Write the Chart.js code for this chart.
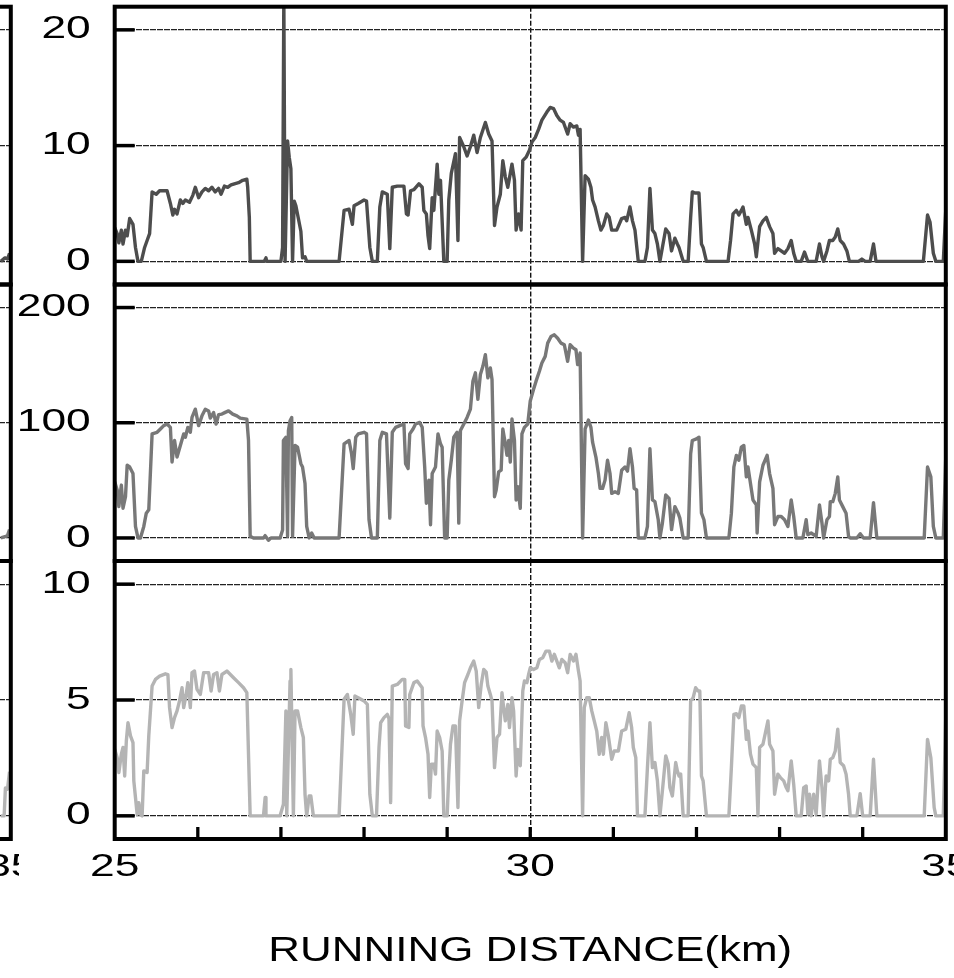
<!DOCTYPE html>
<html>
<head>
<meta charset="utf-8">
<script src="https://cdn.jsdelivr.net/npm/chart.js@4.4.1/dist/chart.umd.min.js"></script>
<style>
html,body{margin:0;padding:0;background:#fff;width:954px;height:978px;overflow:hidden;position:relative}
</style>
</head>
<body>
<script>
// ---------------- DATA ----------------
const xTitle = 'RUNNING DISTANCE(km)';
const xLabelTicks = [25, 30, 35];
const xMinorTicks = [26, 27, 28, 29, 30, 31, 32, 33, 34];
const topTicks = [0, 10, 20];
const midTicks = [0, 100, 200];
const botTicks = [0, 5, 10];

// top series (dark grey)
const topDist = [25.00,25.03,25.05,25.08,25.10,25.13,25.15,25.18,25.22,25.25,25.28,25.32,25.36,25.39,25.42,25.45,25.50,25.54,25.63,25.67,25.70,25.72,25.75,25.79,25.82,25.85,25.90,25.94,25.97,26.01,26.05,26.09,26.13,26.17,26.21,26.25,26.28,26.32,26.36,26.40,26.44,26.49,26.54,26.59,26.60,26.62,26.63,26.80,26.82,26.83,27.00,27.02,27.035,27.05,27.08,27.10,27.12,27.14,27.16,27.18,27.21,27.24,27.26,27.29,27.31,27.70,27.76,27.82,27.86,27.88,27.93,28.00,28.03,28.07,28.10,28.16,28.19,28.22,28.28,28.31,28.34,28.40,28.48,28.51,28.53,28.56,28.60,28.66,28.70,28.72,28.75,28.77,28.79,28.82,28.84,28.88,28.90,28.92,28.96,29.00,29.02,29.05,29.10,29.13,29.15,29.20,29.24,29.28,29.32,29.36,29.40,29.46,29.50,29.54,29.57,29.60,29.64,29.67,29.70,29.73,29.76,29.78,29.81,29.83,29.86,29.89,29.91,29.95,29.99,30.02,30.06,30.10,30.14,30.20,30.24,30.28,30.32,30.36,30.40,30.45,30.48,30.52,30.56,30.58,30.60,30.63,30.66,30.70,30.73,30.75,30.78,30.82,30.85,30.88,30.92,30.95,30.98,31.04,31.10,31.14,31.16,31.20,31.23,31.26,31.30,31.38,31.41,31.44,31.47,31.50,31.53,31.56,31.59,31.63,31.67,31.70,31.74,31.77,31.79,31.84,31.90,31.93,31.95,31.98,32.03,32.06,32.08,32.12,32.38,32.41,32.44,32.48,32.51,32.54,32.56,32.60,32.62,32.66,32.70,32.72,32.76,32.80,32.84,32.88,32.92,32.94,32.98,33.06,33.10,33.14,33.17,33.20,33.26,33.30,33.34,33.44,33.48,33.51,33.53,33.57,33.60,33.64,33.67,33.70,33.73,33.77,33.81,33.84,33.95,33.99,34.03,34.09,34.13,34.16,34.73,34.78,34.81,34.85,34.88,34.97,35.00];
const topVals = [2.9,2.4,1.6,2.7,1.5,2.7,2.2,3.7,3.2,1.2,0,0,1.2,1.8,2.4,6.0,5.8,6.1,6.1,5.0,4.0,4.5,4.1,5.3,5.0,5.3,5.1,5.7,6.4,5.5,6.0,6.3,6.1,6.4,6.0,6.3,5.8,6.5,6.4,6.6,6.7,6.8,7.0,7.1,6.4,3.8,0,0,0.3,0,0,1.2,23,0,10.4,9.0,8.0,0,5.2,4.8,3.7,2.6,0.3,0.4,0,0,4.4,4.5,3.2,4.8,5.0,5.3,5.2,1.2,0,0,4.7,6.0,5.8,1.1,6.4,6.5,6.5,4.1,4.0,6.1,6.2,6.7,6.4,4.4,4.1,2.2,1.1,5.5,4.4,8.4,5.8,7.0,0,0,5.3,7.6,9.3,1.8,10.7,9.9,9.1,9.9,10.9,9.4,10.7,12.0,11.0,10.4,3.1,4.7,5.8,8.7,7.3,6.4,7.6,8.4,7.0,2.7,4.1,2.7,8.7,9.0,9.6,10.3,10.7,11.4,12.2,12.9,13.3,13.2,12.6,12.2,12.0,11.0,11.9,11.6,11.7,10.9,11.4,0,7.4,7.1,6.4,5.3,4.7,3.5,2.7,3.1,4.1,3.8,2.7,2.7,3.7,3.8,3.5,4.7,3.5,2.7,0,0,1.2,6.3,2.7,2.4,1.5,0,1.2,2.8,2.4,0.9,2.0,1.5,1.2,0,0,3.8,6.0,5.9,5.9,1.5,1.2,0,0,1.8,4.1,4.4,4.0,4.4,4.7,3.2,3.8,2.7,1.5,0.4,3.0,3.5,3.8,3.0,2.4,0.7,1.1,0.7,1.1,1.8,0.7,0,0,0.8,0,0,1.5,0.4,0,0.9,1.8,1.8,2.1,2.8,1.8,1.5,0.9,0,0,0.2,0,0,1.5,0,0,4.0,3.4,0.7,0,0,4.5];

// middle series (mid grey)
const midDist = [25.00,25.03,25.05,25.08,25.10,25.13,25.15,25.18,25.22,25.25,25.28,25.31,25.35,25.38,25.41,25.45,25.51,25.55,25.59,25.63,25.67,25.69,25.72,25.75,25.79,25.83,25.85,25.88,25.91,25.93,25.97,26.01,26.05,26.09,26.13,26.15,26.19,26.22,26.25,26.29,26.33,26.37,26.42,26.47,26.51,26.59,26.61,26.63,26.67,26.79,26.81,26.85,26.88,26.99,27.02,27.03,27.06,27.08,27.09,27.11,27.13,27.14,27.17,27.20,27.24,27.26,27.29,27.31,27.34,27.37,27.40,27.70,27.76,27.82,27.85,27.87,27.90,27.93,28.00,28.03,28.06,28.09,28.16,28.19,28.22,28.27,28.31,28.34,28.38,28.43,28.48,28.50,28.53,28.55,28.59,28.62,28.67,28.70,28.73,28.75,28.78,28.80,28.82,28.86,28.89,28.92,28.94,28.97,29.00,29.02,29.05,29.08,29.12,29.14,29.16,29.21,29.24,29.28,29.31,29.34,29.37,29.40,29.43,29.46,29.49,29.52,29.54,29.57,29.59,29.62,29.65,29.67,29.70,29.72,29.74,29.76,29.78,29.81,29.83,29.85,29.88,29.90,29.93,29.97,30.00,30.04,30.07,30.11,30.14,30.18,30.21,30.25,30.29,30.33,30.37,30.41,30.45,30.48,30.52,30.55,30.57,30.60,30.63,30.66,30.70,30.73,30.75,30.79,30.82,30.84,30.87,30.90,30.93,30.96,30.98,31.02,31.06,31.10,31.14,31.17,31.20,31.23,31.25,31.28,31.30,31.38,31.41,31.44,31.47,31.50,31.54,31.56,31.59,31.63,31.67,31.70,31.74,31.78,31.80,31.84,31.90,31.93,31.95,32.00,32.03,32.06,32.09,32.12,32.39,32.42,32.45,32.48,32.51,32.54,32.57,32.60,32.62,32.65,32.68,32.72,32.73,32.76,32.80,32.85,32.88,32.92,32.94,32.98,33.02,33.06,33.10,33.14,33.17,33.20,33.28,33.32,33.34,33.38,33.44,33.48,33.51,33.53,33.57,33.60,33.61,33.64,33.67,33.70,33.72,33.76,33.80,33.83,33.85,33.93,33.97,34.01,34.09,34.13,34.17,34.74,34.78,34.82,34.85,34.88,34.97,35.00];
const midVals = [48.7,41.6,27.2,45.9,25.8,35.8,63.1,61.6,55.9,10.0,0,0,10.0,21.5,24.4,90.3,91.7,94.6,97.5,98.9,96.0,65.9,84.6,70.2,80.3,90.3,87.4,96.0,91.7,104.6,111.8,97.5,106.0,111.8,110.3,104,108.9,98.9,107,107.5,109,110.3,107.5,106.0,104.0,103.2,84.6,1.4,0,0,2,-2,0,0,7,84.6,87.4,1.4,93,101.7,104.6,1.4,80.3,78.8,64.5,61.6,47.3,10.0,0,4.3,0,0,81.7,84.6,73.1,60.2,87.4,90.3,91.7,90.5,15.8,0,0,84.6,91.7,90.3,17.2,91.7,96.0,97.5,98.9,64.5,60.2,90.3,94.6,98.9,100.3,96,61.6,30.1,50.2,11.5,55.9,61.6,90.3,81.7,78.8,0,0,50.2,67.4,87.4,91.7,12.9,93.2,100.3,104.6,111.8,136.1,143.3,120.4,141.9,149,159.1,139,147.6,137.6,35.8,41.6,57.3,58.8,94.6,81.7,71.7,84.6,65.9,103.2,84.6,33.0,44.4,25.8,90.3,96.0,98.9,118.9,129,136.1,144.7,151.9,157.6,169.1,174.8,176.3,173.4,169.1,167.7,153.3,167.7,164.8,163.4,150.5,160.5,0,94.6,102.3,96,83.1,70.2,55.9,43,43,50.2,67.4,55.9,38.7,40.1,38.7,58.8,61.6,58,77.4,61.6,43,41.6,0,0,10,77.4,33,31.5,15.8,0,12.9,37.3,34.4,7.2,27.2,21.5,17.2,0,0,73.1,84.6,86,87.4,21.5,15.8,0,0,21.5,61.6,71.7,67.4,78.8,80.3,53,61.6,47.3,33,28.7,4.3,48.7,63.1,71.7,55.9,43,11.5,18.6,18.6,15.8,10,33,18.6,0,0,15.8,2.9,4.3,1.4,28.7,12.9,0,15.8,18.6,31.5,31.5,38.7,53,33,27.2,21.5,1.4,0,0,3.7,0,0,30.7,0,0,61.6,53,10,0,0,71.7];

// bottom series (light grey)
const botDist = [25.00,25.03,25.05,25.08,25.10,25.12,25.14,25.16,25.19,25.22,25.23,25.25,25.27,25.29,25.31,25.33,25.35,25.39,25.41,25.45,25.49,25.54,25.61,25.64,25.66,25.69,25.72,25.75,25.78,25.81,25.83,25.86,25.88,25.91,25.93,25.96,25.99,26.03,26.07,26.13,26.16,26.19,26.23,26.26,26.29,26.35,26.43,26.49,26.55,26.59,26.61,26.63,26.79,26.81,26.82,26.99,27.03,27.06,27.07,27.11,27.12,27.15,27.17,27.20,27.24,27.27,27.29,27.31,27.34,27.36,27.39,27.70,27.76,27.80,27.84,27.87,27.89,27.93,28.00,28.04,28.07,28.10,28.15,28.18,28.20,28.24,28.28,28.30,28.32,28.34,28.40,28.46,28.49,28.50,28.54,28.55,28.60,28.64,28.70,28.71,28.74,28.77,28.79,28.81,28.84,28.86,28.88,28.91,28.94,28.96,29.00,29.02,29.04,29.07,29.10,29.13,29.15,29.18,29.21,29.25,29.28,29.32,29.35,29.38,29.41,29.44,29.47,29.49,29.52,29.54,29.57,29.60,29.63,29.66,29.68,29.70,29.73,29.75,29.78,29.80,29.83,29.85,29.88,29.91,29.93,29.96,29.98,30.00,30.04,30.08,30.11,30.15,30.19,30.23,30.26,30.29,30.32,30.35,30.38,30.42,30.45,30.48,30.52,30.55,30.58,30.60,30.63,30.65,30.68,30.71,30.74,30.77,30.80,30.83,30.86,30.88,30.91,30.94,30.98,31.01,31.06,31.10,31.15,31.19,31.22,31.24,31.27,31.29,31.38,31.41,31.44,31.47,31.50,31.53,31.56,31.59,31.63,31.66,31.68,31.71,31.75,31.77,31.79,31.81,31.84,31.90,31.93,31.96,31.99,32.02,32.04,32.06,32.08,32.12,32.39,32.42,32.45,32.48,32.51,32.54,32.57,32.60,32.62,32.65,32.68,32.72,32.74,32.76,32.80,32.83,32.86,32.88,32.92,32.94,32.98,33.01,33.05,33.08,33.10,33.14,33.17,33.20,33.26,33.29,33.32,33.34,33.36,33.38,33.41,33.44,33.48,33.51,33.53,33.56,33.59,33.61,33.64,33.67,33.70,33.73,33.77,33.80,33.83,33.85,33.93,33.97,34.00,34.09,34.13,34.17,34.74,34.78,34.82,34.86,34.88,34.97,35.00];
const botVals = [2.87,2.51,1.87,2.66,2.95,1.72,3.23,4.02,3.45,3.16,1.51,0.79,0.07,0.57,0.07,0,1.94,1.87,3.45,5.6,5.89,6.03,6.13,6.1,4.67,3.81,4.24,4.53,4.96,5.53,4.67,5.24,5.75,4.67,6.18,6.25,5.46,5.24,6.18,6.18,5.39,6.1,6.18,5.39,6.1,6.25,5.96,5.75,5.53,5.32,2.66,0,0,0.79,0,0,0.5,4.53,0,5.82,6.32,0,4.53,4.53,3.81,3.38,0.93,0,0.86,0.86,0,0,5.03,5.24,4.38,3.52,5.17,5.1,4.96,4.81,0.93,0,0,2.95,4.02,4.24,4.38,4.2,0.57,5.6,5.67,5.89,5.89,3.88,3.81,5.24,5.75,5.82,5.53,3.88,3.38,2.66,0.79,2.23,2.23,1.8,3.66,3.38,2.8,0,0,1.8,3.09,3.88,3.88,0.36,4.1,4.96,5.75,6.1,6.39,6.68,6.25,4.67,5.67,6.32,6.2,5.6,5.24,4.96,2.08,3.38,3.52,5.32,4.67,4.1,4.81,3.81,5.1,4.53,1.72,2.87,2.16,5.39,5.82,5.75,6.1,6.39,6.32,6.39,6.75,6.82,7.11,7.11,6.68,6.97,6.68,6.39,6.75,6.61,6.18,6.97,6.68,6.97,6.25,5.82,0,4.67,5.1,5.1,4.53,4.1,3.66,2.66,3.38,2.66,4.02,3.45,2.44,2.8,2.8,3.66,3.74,4.45,3.81,2.95,2.51,0,0,2.08,4.02,2.08,2.3,1.51,0,1.08,2.59,2.23,1.22,0.86,2.3,1.94,1.72,1.8,0,0,4.96,5.1,5.53,5.39,5.39,1.72,1.51,0,0,2.08,4.38,4.41,4.24,4.74,4.74,3.3,3.66,2.66,2.23,2.08,0,2.95,3.09,3.59,4.1,3.09,2.8,0.93,1.8,1.65,1.51,1.22,1.08,2.37,1.36,0,0,1.22,1.29,0.07,0.93,0,0.93,0.07,2.37,1.22,0,1.72,1.51,2.44,2.51,2.8,3.74,2.3,2.16,1.8,0.93,0,0,0.96,0,0,2.44,0,0,3.3,2.51,0.36,0,0,4.38];

// neighbouring (cropped) figure on the left: only its last stretch is visible
const leftTopDist = [34.88, 34.93, 34.96, 34.985];
const leftTopVals = [0, 0.3, 0.2, 0.7];
const leftMidDist = [34.88, 34.94, 34.96, 34.985];
const leftMidVals = [0, 1.4, 2, 7.2];
const leftBotDist = [34.88, 34.92, 34.935, 34.96, 34.985];
const leftBotVals = [0, 0, 1.2, 1.15, 1.9];

// ---------------- STYLE / LAYOUT ----------------
Chart.defaults.font.family = "'Liberation Sans', Arial, sans-serif";
Chart.defaults.color = '#000';
Chart.defaults.animation = false;

const W = 954;
const PLOT_LEFT = 114.7;
const PLOT_RIGHT = 945.8;
const LEFT_FIG_SHIFT = 10.5 - PLOT_RIGHT;
const TICK_FONT = 31, TITLE_FONT = 35;
const TICK_STRETCH = 1.43, TITLE_STRETCH = 1.255;

// the original figure uses horizontally widened lettering: stretch Chart.js text in x
const wideTextPlugin = {
  id: 'wideText',
  beforeDraw(chart) {
    const ctx = chart.ctx;
    ctx.fillText = function (text, x, y) {
      const sx = this.font.indexOf(TITLE_FONT + 'px') >= 0 ? TITLE_STRETCH : TICK_STRETCH;
      this.save();
      this.translate(x, y);
      this.scale(sx, 1);
      CanvasRenderingContext2D.prototype.fillText.call(this, text, 0, 0);
      this.restore();
    };
  },
  afterDraw(chart) { delete chart.ctx.fillText; }
};

function framePlugin(minor) {
  return {
    id: 'frame',
    afterDraw(chart) {
      const {ctx, chartArea: a} = chart;
      const ys = chart.scales.y, xs = chart.scales.x;
      ctx.save();
      ctx.strokeStyle = '#000';
      ctx.lineCap = 'butt';
      ctx.lineWidth = 3.5;
      ys.ticks.forEach(t => {
        const p = ys.getPixelForValue(t.value);
        ctx.beginPath(); ctx.moveTo(a.left, p); ctx.lineTo(a.left + 20, p); ctx.stroke();
      });
      ctx.lineWidth = 3.3;
      minor.forEach(v => {
        const p = xs.getPixelForValue(v);
        ctx.beginPath(); ctx.moveTo(p, a.bottom); ctx.lineTo(p, a.bottom - 12); ctx.stroke();
      });
      ctx.lineWidth = 4;
      ctx.strokeRect(a.left, a.top, a.right - a.left, a.bottom - a.top);
      ctx.restore();
    }
  };
}

function makePanel(cfg) {
  const wrap = document.createElement('div');
  wrap.style.cssText = `position:absolute;left:${cfg.left}px;top:${cfg.top}px;width:${W}px;height:${cfg.height}px`;
  const cv = document.createElement('canvas');
  cv.width = W; cv.height = cfg.height;
  cv.style.cssText = `display:block;width:${W}px;height:${cfg.height}px`;
  wrap.appendChild(cv);
  document.body.appendChild(wrap);
  const showX = !!cfg.showX;
  new Chart(cv, {
    type: 'line',
    data: {
      datasets: [{
        data: cfg.dist.map((d, i) => ({x: d, y: cfg.vals[i]})),
        borderColor: cfg.color,
        borderWidth: 3.4,
        pointRadius: 0,
        tension: 0,
        borderJoinStyle: 'round',
        fill: false
      }]
    },
    options: {
      responsive: false,
      animation: false,
      events: [],
      layout: {padding: {left: 0, right: W - PLOT_RIGHT, top: cfg.padTop, bottom: cfg.padBottom}},
      plugins: {legend: {display: false}, tooltip: {enabled: false}},
      scales: {
        x: {
          type: 'linear', min: 25, max: 35,
          afterBuildTicks: a => { a.ticks = xLabelTicks.map(v => ({value: v})); },
          afterFit: a => {
            a.height = showX ? cfg.xAxisHeight : 0;
            a.paddingLeft = 0; a.paddingRight = 0; a.paddingTop = 0; a.paddingBottom = 0;
          },
          grid: {
            color: c => (c.tick && c.tick.value === 30) ? '#111' : 'rgba(0,0,0,0)',
            lineWidth: 1.4, drawTicks: false
          },
          border: {display: false, dash: [5, 2]},
          ticks: {display: showX, padding: 9.7, font: {size: TICK_FONT}, maxRotation: 0, autoSkip: false,
                  callback: v => String(v)},
          title: {display: showX, text: xTitle, font: {size: TITLE_FONT}, padding: {top: 0, bottom: 6}}
        },
        y: {
          min: cfg.min, max: cfg.max,
          afterBuildTicks: a => { a.ticks = cfg.ticks.map(v => ({value: v})); },
          afterFit: a => {
            a.width = PLOT_LEFT;
            a.paddingLeft = 0; a.paddingRight = 0; a.paddingTop = 0; a.paddingBottom = 0;
          },
          grid: {color: '#222', lineWidth: 1.2, drawTicks: false},
          border: {display: false, dash: [6, 1]},
          ticks: {padding: 24, font: {size: TICK_FONT}, callback: v => String(v)}
        }
      }
    },
    plugins: [wideTextPlugin, framePlugin(showX ? xMinorTicks : [])]
  });
}

const rows = [
  {top: 0,   height: 290, padTop: 6.7, padBottom: 5.5, min: -2,  max: 22,  ticks: topTicks, color: '#4d4d4d'},
  {top: 280, height: 286, padTop: 4.5, padBottom: 5,   min: -20, max: 220, ticks: midTicks, color: '#787878'},
  {top: 556, height: 422, padTop: 5,   padBottom: 0,   min: -1,  max: 11,  ticks: botTicks, color: '#b4b4b4', showX: true, xAxisHeight: 139}
];
const mainData = [[topDist, topVals], [midDist, midVals], [botDist, botVals]];
const leftData = [[leftTopDist, leftTopVals], [leftMidDist, leftMidVals], [leftBotDist, leftBotVals]];

rows.forEach((r, i) => {
  makePanel(Object.assign({}, r, {left: LEFT_FIG_SHIFT, dist: leftData[i][0], vals: leftData[i][1]}));
  makePanel(Object.assign({}, r, {left: 0, dist: mainData[i][0], vals: mainData[i][1]}));
});
</script>
</body>
</html>
